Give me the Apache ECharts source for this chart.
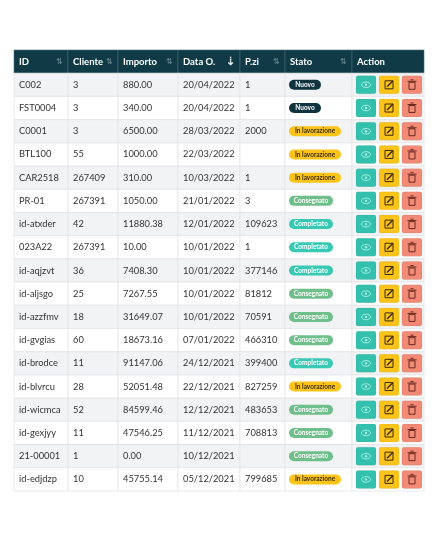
<!DOCTYPE html>
<html><head><meta charset="utf-8">
<script src="https://cdn.jsdelivr.net/npm/echarts@6/dist/echarts.min.js"></script>
<style>html,body{margin:0;padding:0;background:#fff}#c{width:440px;height:542px}</style>
</head><body><div id="c"></div>
<script>
const headers = ['ID','Cliente','Importo','Data O.','P.zi','Stato','Action'];
const ids = ['C002','FST0004','C0001','BTL100','CAR2518','PR-01','id-atxder','023A22','id-aqjzvt','id-aljsgo','id-azzfmv','id-gvgias','id-brodce','id-blvrcu','id-wicmca','id-gexjyy','21-00001','id-edjdzp'];
const clienti = ['3','3','3','55','267409','267391','42','267391','36','25','18','60','11','28','52','11','1','10'];
const importi = ['880.00','340.00','6500.00','1000.00','310.00','1050.00','11880.38','10.00','7408.30','7267.55','31649.07','18673.16','91147.06','52051.48','84599.46','47546.25','0.00','45755.14'];
const date = ['20/04/2022','20/04/2022','28/03/2022','22/03/2022','10/03/2022','21/01/2022','12/01/2022','10/01/2022','10/01/2022','10/01/2022','10/01/2022','07/01/2022','24/12/2021','22/12/2021','12/12/2021','11/12/2021','10/12/2021','05/12/2021'];
const pezzi = ['1','1','2000','','1','3','109623','1','377146','81812','70591','466310','399400','827259','483653','708813','','799685'];
const stati = ['Nuovo','Nuovo','In lavorazione','In lavorazione','In lavorazione','Consegnato','Completato','Completato','Completato','Consegnato','Consegnato','Consegnato','Completato','In lavorazione','Consegnato','Consegnato','Consegnato','In lavorazione'];
const colEdges = [0,54,104,164,226,271,338,410];

const badge = {
  'Nuovo':{bg:'#0f3440',fg:'#fff'},
  'In lavorazione':{bg:'#fcc419',fg:'#3a2a00'},
  'Consegnato':{bg:'#6fbf8a',fg:'#fff'},
  'Completato':{bg:'#38c9b4',fg:'#fff'}
};
const cols=[ids,clienti,importi,date,pezzi];
const rowsCat=['h'].concat(ids.map((_,i)=>'r'+i));
const data=[];
for(let r=0;r<rowsCat.length;r++)for(let c=0;c<headers.length;c++)data.push([c,r]);
const F='Lato, "Noto Sans", sans-serif';

function renderItem(params, api){
  const c=api.value(0), r=api.value(1);
  const x0=api.coord([colEdges[c], r])[0], x1=api.coord([colEdges[c+1], r])[0];
  const yc=api.coord([0,r])[1]; const h=api.size([0,1])[1];
  const y0=yc-h/2, w=x1-x0;
  const ch=[];
  if(r===0){
    ch.push({type:'rect',shape:{x:x0,y:y0,width:w,height:h},style:{fill:'#0f3a46',stroke:'#4a6d76',lineWidth:0.6}});
    ch.push({type:'text',style:{text:headers[c],x:x0+5,y:yc,verticalAlign:'middle',fill:'#fff',font:'bold 9.5px '+F}});
    if(c<6) ch.push({type:'text',style:{text:c===3?'⇣':'⇅',x:x1-5,y:yc,align:'right',verticalAlign:'middle',fill:c===3?'#e6eef0':'#6d8a92',font:(c===3?'bold 11px ':'8px ')+F}});
    return {type:'group',children:ch};
  }
  const i=r-1;
  ch.push({type:'rect',shape:{x:x0,y:y0,width:w,height:h},style:{fill:i%2===0?'#f2f3f4':'#fff',stroke:'#e3e5e7',lineWidth:0.8}});
  if(c<5){
    ch.push({type:'text',style:{text:cols[c][i],x:x0+5,y:yc,verticalAlign:'middle',fill:'#333',font:'9.3px '+F}});
  } else if(c===5){
    const s=stati[i], b=badge[s];
    const tw=s==='Nuovo'?32:s==='In lavorazione'?52:44;
    ch.push({type:'rect',shape:{x:x0+4,y:yc-5,width:tw,height:10,r:5},style:{fill:b.bg}});
    ch.push({type:'text',style:{text:s,x:x0+4+tw/2,y:yc,align:'center',verticalAlign:'middle',fill:b.fg,font:'bold 6.5px '+F}});
  } else {
    const bc=[['#33c1ad','#a8ece2'],['#fcc419','#3a2a00'],['#f28a76','#6b2a20']];
    for(let k=0;k<3;k++){
      const bx=x0+4+k*23;
      ch.push({type:'rect',shape:{x:bx,y:yc-9,width:20,height:18,r:2},style:{fill:bc[k][0],stroke:'rgba(0,0,0,0.12)',lineWidth:0.5}});
      const cx=bx+10;
      if(k===0){
        ch.push({type:'ellipse',shape:{cx:cx,cy:yc,rx:4.5,ry:2.8},style:{fill:'none',stroke:bc[k][1],lineWidth:1}});
        ch.push({type:'circle',shape:{cx:cx,cy:yc,r:1.2},style:{fill:bc[k][1]}});
      } else if(k===1){
        ch.push({type:'rect',shape:{x:cx-4,y:yc-4,width:8,height:8},style:{fill:'none',stroke:bc[k][1],lineWidth:1}});
        ch.push({type:'line',shape:{x1:cx-2,y1:yc+2,x2:cx+4,y2:yc-4},style:{stroke:bc[k][1],lineWidth:1.4}});
      } else {
        ch.push({type:'rect',shape:{x:cx-3,y:yc-2.5,width:6,height:7},style:{fill:'none',stroke:bc[k][1],lineWidth:1}});
        ch.push({type:'line',shape:{x1:cx-4.5,y1:yc-3.5,x2:cx+4.5,y2:yc-3.5},style:{stroke:bc[k][1],lineWidth:1}});
        ch.push({type:'line',shape:{x1:cx-1.5,y1:yc-5,x2:cx+1.5,y2:yc-5},style:{stroke:bc[k][1],lineWidth:1}});
      }
    }
  }
  return {type:'group',children:ch};
}

const chart=echarts.init(document.getElementById('c'));
chart.setOption({
  animation:false,
  grid:{left:14,right:16,top:50,bottom:51},
  xAxis:{type:'value',min:0,max:410,show:false},
  yAxis:{type:'category',data:rowsCat,inverse:true,show:false},
  series:[{type:'custom',renderItem:renderItem,data:data,clip:false}]
});
</script></body></html>
